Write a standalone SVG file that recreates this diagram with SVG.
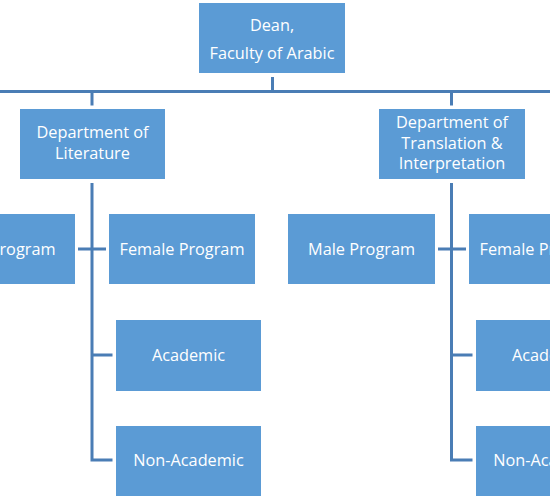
<svg xmlns="http://www.w3.org/2000/svg" width="550" height="500" viewBox="0 0 550 500">
<style>
.box{fill:#5B9BD5}
.t{font-family:"Open Sans","Liberation Sans",sans-serif;font-size:16.3px;fill:#FFFFFF;text-anchor:middle}
.c{stroke:#4A7DB5;stroke-width:3;fill:none}
</style>
<rect width="550" height="500" fill="#FFFFFF"/>
<g id="connectors">
<path class="c" d="M272.5,77 V91.5 M0,91.5 H550 M92,91.5 V105.5 M451.5,91.5 V105.5"/>
<path class="c" d="M92,183 V460 H112.5 M92,355 H112.5 M78,249 H106"/>
<path class="c" d="M451.5,183 V460 H472.5 M451.5,355 H472.5 M438,249 H466"/>
</g>
<g id="dean"><rect class="box" x="199" y="3" width="146" height="70"/><text class="t" x="272" y="31">Dean,</text><text class="t" x="272" y="59">Faculty of Arabic</text></g>
<g id="dept-literature"><rect class="box" x="20" y="109" width="145" height="70"/><text class="t" x="92.5" y="138">Department of</text><text class="t" x="92.5" y="159">Literature</text></g>
<g id="dept-translation"><rect class="box" x="379" y="109" width="146" height="70"/><text class="t" x="452" y="128">Department of</text><text class="t" x="452" y="148.5">Translation &amp;</text><text class="t" x="452" y="169">Interpretation</text></g>
<g id="lit-male"><rect class="box" x="-71" y="214" width="146" height="70"/><text class="t" x="2" y="255">Male Program</text></g>
<g id="lit-female"><rect class="box" x="109" y="214" width="146" height="70"/><text class="t" x="182" y="255">Female Program</text></g>
<g id="lit-academic"><rect class="box" x="116" y="320" width="145" height="71"/><text class="t" x="188.5" y="361">Academic</text></g>
<g id="lit-nonacademic"><rect class="box" x="116" y="426" width="145" height="70"/><text class="t" x="188.5" y="466">Non-Academic</text></g>
<g id="tr-male"><rect class="box" x="288" y="214" width="147" height="70"/><text class="t" x="361.5" y="255">Male Program</text></g>
<g id="tr-female"><rect class="box" x="469" y="214" width="146" height="70"/><text class="t" x="542" y="255">Female Program</text></g>
<g id="tr-academic"><rect class="box" x="476" y="320" width="145" height="71"/><text class="t" x="548.5" y="361">Academic</text></g>
<g id="tr-nonacademic"><rect class="box" x="476" y="426" width="145" height="70"/><text class="t" x="548.5" y="466">Non-Academic</text></g>
</svg>
